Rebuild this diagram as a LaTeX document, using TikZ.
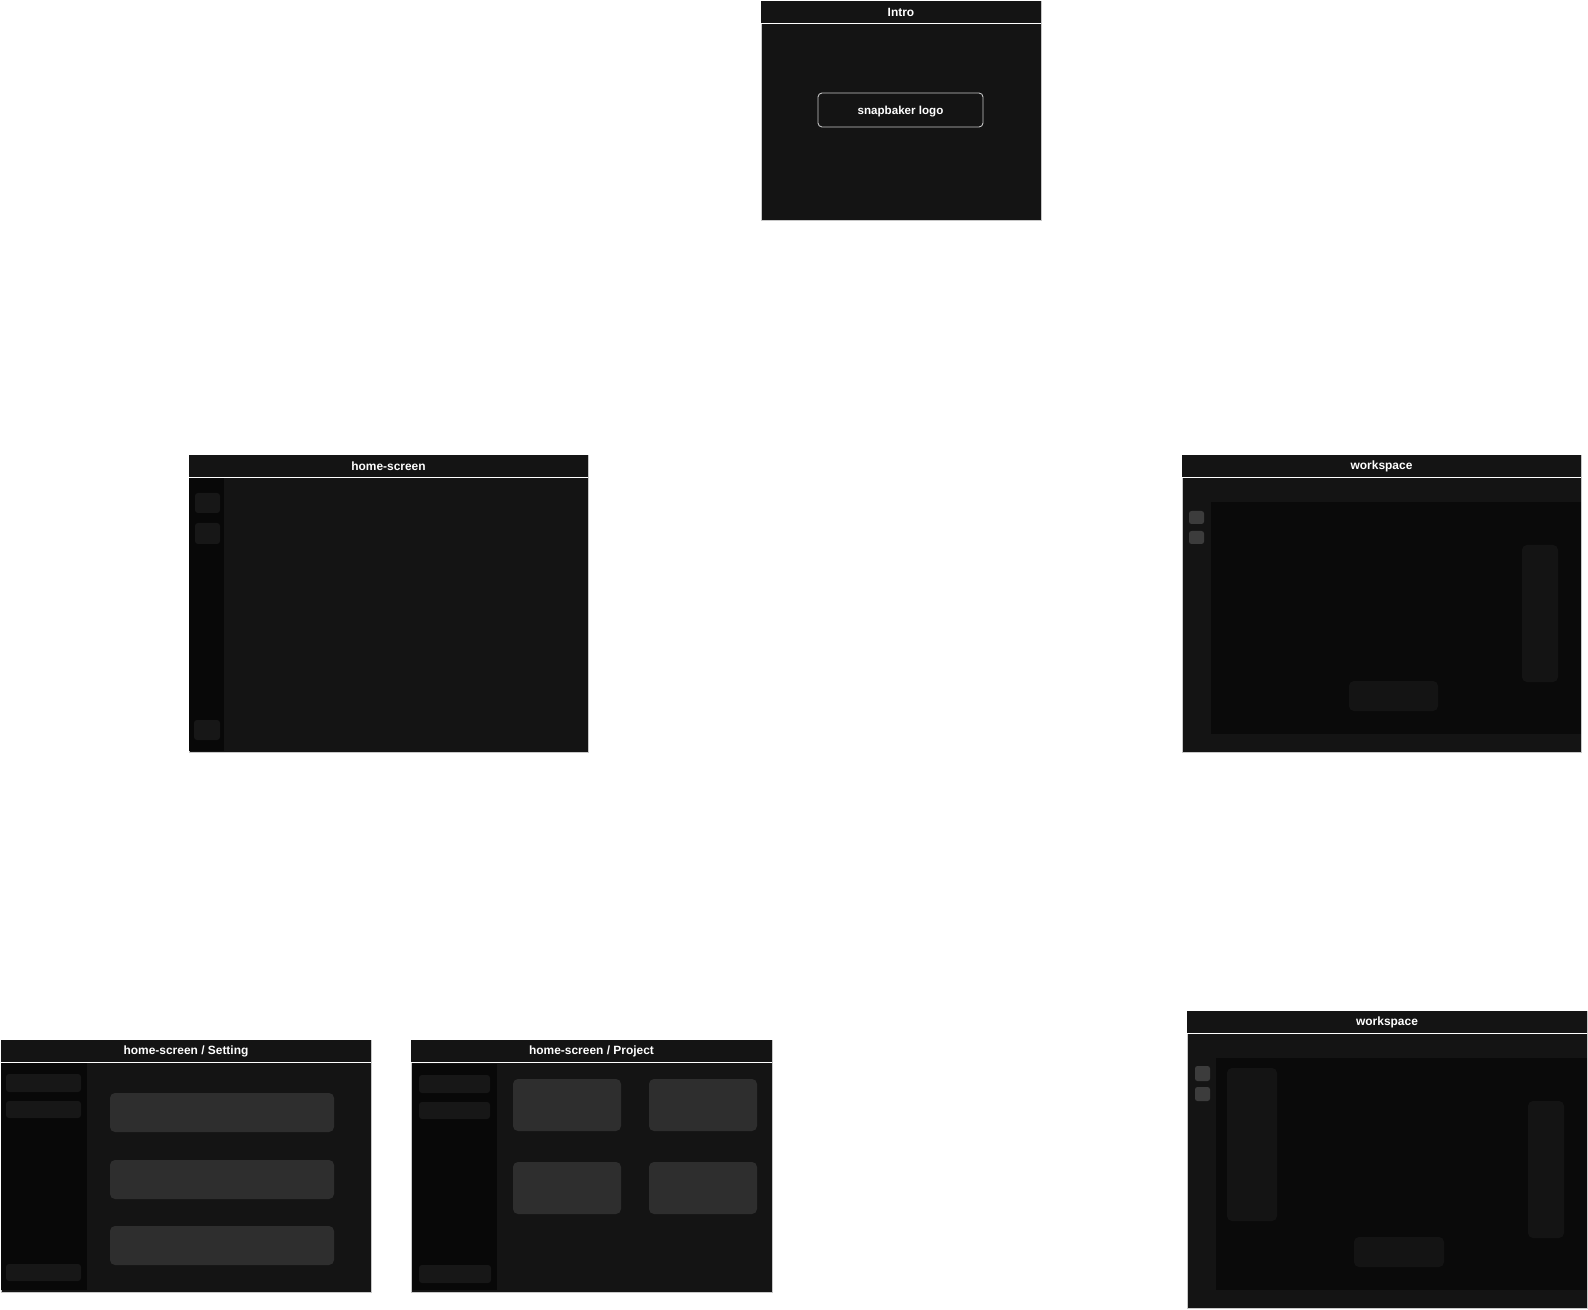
\documentclass[tikz,border=0pt]{standalone}
\usepackage{fontspec}
\setmainfont{Liberation Sans}
\usetikzlibrary{positioning,fit}
\definecolor{scrbg}{HTML}{141414}
\definecolor{sidebg}{HTML}{080808}
\definecolor{areabg}{HTML}{0A0A0A}
\definecolor{itembg}{HTML}{171717}
\definecolor{cardbg}{HTML}{2E2E2E}
\definecolor{btnbg}{HTML}{3C3C3C}
\definecolor{edgegray}{HTML}{C8C8C8}
\tikzset{
  screen/.style={rectangle, draw=edgegray, line width=0.3pt, fill=scrbg, inner sep=0pt},
  scrhead/.style={rectangle, fill=scrbg, inner sep=0pt},
  headtext/.style={inner sep=0pt, text=white, font=\fontsize{6.8}{8}\selectfont\bfseries},
  headline/.style={white, line width=0.6pt},
  scrside/.style={rectangle, fill=sidebg, inner sep=0pt},
  scrarea/.style={rectangle, fill=areabg, inner sep=0pt},
  scritem/.style={rectangle, rounded corners=0.06cm, fill=itembg, inner sep=0pt},
  scrcard/.style={rectangle, rounded corners=0.1cm, fill=cardbg, inner sep=0pt},
  scrbtn/.style={rectangle, rounded corners=0.05cm, fill=btnbg, inner sep=0pt},
  scrpanel/.style={rectangle, rounded corners=0.1cm, fill=scrbg, inner sep=0pt},
  logobox/.style={rectangle, rounded corners=0.08cm, draw=edgegray, line width=0.5pt,
                  fill=scrbg, inner sep=0pt},
  logotext/.style={inner sep=0pt, text=white, yshift=-0.03cm,
                   font=\fontsize{6.6}{8}\selectfont\bfseries}
}
\begin{document}
\begin{tikzpicture}[x=0.02cm, y=-0.02cm]
  \useasboundingbox (0,0) rectangle (1588,1310);

  % intro
  \node[screen, fit={(761,1) (1041,220)}] (intro) {};
  \node[scrhead, fit={(761,1) (1041,23)}] (intro-hd) {};
  \node[headtext] at (intro-hd.center) (intro-title) {Intro};
  \draw[headline] (intro-hd.south west) -- (intro-hd.south east);
  \node[logobox, fit={(818,93) (983,127)}] (intro-logo) {};
  \node[logotext] at (intro-logo.center) (intro-logo-txt) {snapbaker logo};

  % home-screen
  \node[screen, fit={(189,455) (588,752)}] (home) {};
  \node[scrhead, fit={(189,455) (588,477)}] (home-hd) {};
  \node[headtext] at (home-hd.center) (home-title) {home-screen};
  \draw[headline] (home-hd.south west) -- (home-hd.south east);
  \node[scrside, fit={(189,478) (224,751)}] (home-side) {};
  \node[scritem, fit={(195,493) (220,513)}] (home-b1) {};
  \node[scritem, fit={(195,523) (220,544)}] (home-b2) {};
  \node[scritem, fit={(194,720) (220,740)}] (home-b3) {};

  % workspace
  \node[screen, fit={(1182,455) (1581,752)}] (ws) {};
  \node[scrhead, fit={(1182,455) (1581,477)}] (ws-hd) {};
  \node[headtext] at (ws-hd.center) (ws-title) {workspace};
  \draw[headline] (ws-hd.south west) -- (ws-hd.south east);
  \node[scrarea, fit={(1211,502) (1581,734)}] (ws-area) {};
  \node[scrbtn, fit={(1189,511) (1204,524)}] (ws-t1) {};
  \node[scrbtn, fit={(1189,531) (1204,544)}] (ws-t2) {};
  \node[scrpanel, fit={(1522,545) (1558,682)}] (ws-right) {};
  \node[scrpanel, fit={(1349,681) (1438,711)}] (ws-bar) {};

  % home-screen / Setting
  \node[screen, fit={(1,1040) (371,1292)}] (set) {};
  \node[scrhead, fit={(1,1040) (371,1062)}] (set-hd) {};
  \node[headtext] at (set-hd.center) (set-title) {home-screen / Setting};
  \draw[headline] (set-hd.south west) -- (set-hd.south east);
  \node[scrside, fit={(1,1063) (87,1290)}] (set-side) {};
  \node[scritem, fit={(6,1074) (81,1092)}] (set-m1) {};
  \node[scritem, fit={(6,1101) (81,1118)}] (set-m2) {};
  \node[scritem, fit={(6,1264) (81,1281)}] (set-m3) {};
  \node[scrcard, fit={(110,1093) (334,1132)}] (set-c1) {};
  \node[scrcard, fit={(110,1160) (334,1199)}] (set-c2) {};
  \node[scrcard, fit={(110,1226) (334,1265)}] (set-c3) {};

  % home-screen / Project
  \node[screen, fit={(411,1040) (772,1292)}] (proj) {};
  \node[scrhead, fit={(411,1040) (772,1062)}] (proj-hd) {};
  \node[headtext] at (proj-hd.center) (proj-title) {home-screen / Project};
  \draw[headline] (proj-hd.south west) -- (proj-hd.south east);
  \node[scrside, fit={(412,1064) (497,1290)}] (proj-side) {};
  \node[scritem, fit={(419,1075) (490,1093)}] (proj-m1) {};
  \node[scritem, fit={(419,1102) (490,1119)}] (proj-m2) {};
  \node[scritem, fit={(419,1265) (491,1283)}] (proj-m3) {};
  \node[scrcard, fit={(513,1079) (621,1131)}] (proj-c1) {};
  \node[scrcard, fit={(649,1079) (757,1131)}] (proj-c2) {};
  \node[scrcard, fit={(513,1162) (621,1214)}] (proj-c3) {};
  \node[scrcard, fit={(649,1162) (757,1214)}] (proj-c4) {};

  % workspace with left panel
  \node[screen, fit={(1187,1011) (1587,1308)}] (ws2) {};
  \node[scrhead, fit={(1187,1011) (1587,1033)}] (ws2-hd) {};
  \node[headtext] at (ws2-hd.center) (ws2-title) {workspace};
  \draw[headline] (ws2-hd.south west) -- (ws2-hd.south east);
  \node[scrarea, fit={(1216,1058) (1587,1290)}] (ws2-area) {};
  \node[scrbtn, fit={(1195,1066) (1210,1081)}] (ws2-t1) {};
  \node[scrbtn, fit={(1195,1087) (1210,1101)}] (ws2-t2) {};
  \node[scrpanel, fit={(1227,1068) (1277,1221)}] (ws2-left) {};
  \node[scrpanel, fit={(1528,1101) (1564,1238)}] (ws2-right) {};
  \node[scrpanel, fit={(1354,1237) (1444,1267)}] (ws2-bar) {};
\end{tikzpicture}
\end{document}
